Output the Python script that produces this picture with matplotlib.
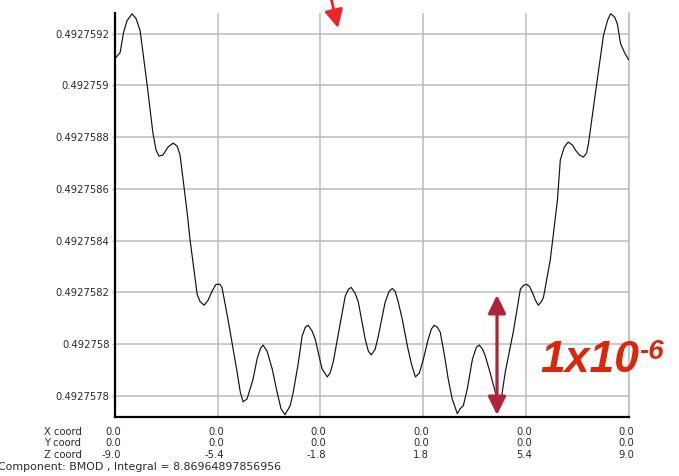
import matplotlib
matplotlib.use("Agg")
import matplotlib.pyplot as plt
import matplotlib.transforms as mtransforms

# Field magnitude profile along the z axis
z_coord = [
    -9.00, -8.82, -8.70, -8.58, -8.40, -8.26, -8.12, -7.88, -7.67, -7.56,
    -7.46, -7.32, -7.14, -6.96, -6.82, -6.72, -6.47, -6.37, -6.12, -6.02,
    -5.88, -5.74, -5.60, -5.46, -5.32, -5.25, -5.04, -4.72, -4.61, -4.51,
    -4.37, -4.16, -4.02, -3.91, -3.81, -3.67, -3.49, -3.32, -3.18, -3.04,
    -2.86, -2.75, -2.58, -2.44, -2.33, -2.23, -2.09, -1.98, -1.84, -1.74,
    -1.56, -1.46, -1.35, -1.14, -0.93, -0.82, -0.72, -0.58, -0.47, -0.23,
    -0.12, -0.02,
    0.12, 0.23, 0.47, 0.61, 0.72, 0.82, 0.93, 1.07, 1.25, 1.39,
    1.53, 1.67, 1.81, 1.98, 2.09, 2.19, 2.30, 2.40, 2.54, 2.68,
    2.82, 3.00, 3.10, 3.21, 3.35, 3.53, 3.67, 3.77, 3.88, 3.98,
    4.16, 4.33, 4.44, 4.54, 4.68, 4.96, 5.21, 5.32, 5.42, 5.53,
    5.63, 5.74, 5.84, 5.95, 6.02, 6.26, 6.51, 6.61, 6.75, 6.89,
    7.04, 7.14, 7.28, 7.42, 7.53, 7.60, 7.84, 8.12, 8.26, 8.37,
    8.51, 8.61, 8.72, 8.86, 9.00,
]
bmod = [
    0.492759104, 0.492759127, 0.492759205, 0.492759250, 0.492759277,
    0.492759258, 0.492759212, 0.492759008, 0.492758815, 0.492758750,
    0.492758727, 0.492758731, 0.492758762, 0.492758777, 0.492758765,
    0.492758731, 0.492758508, 0.492758404, 0.492758192, 0.492758165,
    0.492758150, 0.492758169, 0.492758204, 0.492758231, 0.492758231,
    0.492758219, 0.492758096, 0.492757892, 0.492757815, 0.492757777,
    0.492757788, 0.492757865, 0.492757942, 0.492757981, 0.492757996,
    0.492757973, 0.492757904, 0.492757815, 0.492757750, 0.492757727,
    0.492757762, 0.492757815, 0.492757923, 0.492758031, 0.492758065,
    0.492758073, 0.492758050, 0.492758019, 0.492757950, 0.492757904,
    0.492757873, 0.492757888, 0.492757931, 0.492758058, 0.492758185,
    0.492758212, 0.492758219, 0.492758196, 0.492758162, 0.492758019,
    0.492757973, 0.492757958,
    0.492757980, 0.492758031, 0.492758162, 0.492758204, 0.492758215,
    0.492758204, 0.492758162, 0.492758096, 0.492757992, 0.492757923,
    0.492757873, 0.492757888, 0.492757942, 0.492758019, 0.492758058,
    0.492758073, 0.492758065, 0.492758046, 0.492757962, 0.492757865,
    0.492757788, 0.492757731, 0.492757750, 0.492757762, 0.492757827,
    0.492757942, 0.492757988, 0.492757996, 0.492757981, 0.492757954,
    0.492757885, 0.492757815, 0.492757777, 0.492757788, 0.492757892,
    0.492758046, 0.492758212, 0.492758227, 0.492758231, 0.492758223,
    0.492758200, 0.492758169, 0.492758150, 0.492758165, 0.492758181,
    0.492758327, 0.492758558, 0.492758712, 0.492758762, 0.492758781,
    0.492758769, 0.492758750, 0.492758731, 0.492758723, 0.492758738,
    0.492758777, 0.492758970, 0.492759192, 0.492759250, 0.492759277,
    0.492759265, 0.492759238, 0.492759162, 0.492759127, 0.492759100,
]

y_ticks = [0.4927578, 0.4927580, 0.4927582, 0.4927584,
           0.4927586, 0.4927588, 0.4927590, 0.4927592]
y_tick_labels = ["0.4927578", "0.492758", "0.4927582", "0.4927584",
                 "0.4927586", "0.4927588", "0.492759", "0.4927592"]

z_ticks = [-9.0, -5.4, -1.8, 1.8, 5.4, 9.0]
x_row = ["0.0", "0.0", "0.0", "0.0", "0.0", "0.0"]
y_row = ["0.0", "0.0", "0.0", "0.0", "0.0", "0.0"]
z_row = ["-9.0", "-5.4", "-1.8", "1.8", "5.4", "9.0"]
row_names = ["X coord", "Y coord", "Z coord"]
footer = "Component: BMOD , Integral = 8.86964897856956"

W, H = 679, 476
FONT = "DejaVu Sans"
LABEL = "#2a2a2a"
GRID = "#bcbcbc"

fig = plt.figure(figsize=(W / 100, H / 100), dpi=100)
fig.patch.set_facecolor("white")
ax = fig.add_axes([115 / W, (H - 416.5) / H, (628.5 - 115) / W, (416.5 - 13) / H])

ax.plot(z_coord, bmod, color="#111111", lw=0.85, zorder=3)

ax.set_xlim(-9, 9)
ax.set_ylim(0.49275772, 0.49275928)
ax.set_xticks(z_ticks)
ax.set_xticklabels([])
ax.set_yticks(y_ticks)
ax.set_yticklabels(y_tick_labels, fontfamily=FONT, fontsize=7.2, color=LABEL)
ax.tick_params(axis="y", length=2.5, width=1.0, color=GRID, pad=1.5)
ax.tick_params(axis="x", length=0)
ax.grid(True, color=GRID, lw=1.1, zorder=1)

ax.spines["top"].set_visible(False)
ax.spines["right"].set_color(GRID)
ax.spines["right"].set_linewidth(1.1)
for side in ("left", "bottom"):
    ax.spines[side].set_color("black")
    ax.spines[side].set_linewidth(1.6)
    ax.spines[side].set_zorder(4)

# coordinate rows under the plot
trans = mtransforms.offset_copy(
    mtransforms.blended_transform_factory(ax.transData, fig.transFigure),
    fig=fig, x=6, y=0, units="dots")
row_y = [(H - 432) / H, (H - 443.5) / H, (H - 455) / H]
for name, yy in zip(row_names, row_y):
    fig.text(63 / W, yy, name, ha="center", va="center",
             fontfamily=FONT, fontsize=7.2, color=LABEL)
for row, yy in zip([x_row, y_row, z_row], row_y):
    for zt, lab in zip(z_ticks, row):
        ax.text(zt, yy, lab, transform=trans, ha="right", va="center",
                fontfamily=FONT, fontsize=7.2, color=LABEL, clip_on=False)
fig.text(-2 / W, (H - 467.5) / H, footer, ha="left", va="center",
         fontfamily=FONT, fontsize=7.9, color=LABEL)

# pointer arrow at the top
ax.annotate("", xy=(338, H - 28), xytext=(331, H + 2),
            xycoords="figure pixels", textcoords="figure pixels",
            arrowprops=dict(arrowstyle="-|>,head_length=0.55,head_width=0.28",
                            mutation_scale=20, color="#e8262a", lw=2.0,
                            shrinkA=0, shrinkB=0),
            annotation_clip=False)

# double-headed scale arrow
ax.annotate("", xy=(497, H - 415), xytext=(497, H - 295),
            xycoords="figure pixels", textcoords="figure pixels",
            arrowprops=dict(arrowstyle="<|-|>,head_length=0.55,head_width=0.27",
                            mutation_scale=20, color="#b0243a", lw=2.3,
                            shrinkA=0, shrinkB=0),
            annotation_clip=False)

RED = "#d8280c"
fig.text(540 / W, (H - 372) / H, "1x10", ha="left", va="baseline",
         fontfamily="Liberation Sans", fontsize=32, fontweight="bold",
         fontstyle="italic", color=RED)
fig.text(639 / W, (H - 359) / H, "-6", ha="left", va="baseline",
         fontfamily="Liberation Sans", fontsize=20, fontweight="bold",
         fontstyle="italic", color=RED)

fig.savefig("out.png", dpi=100)
